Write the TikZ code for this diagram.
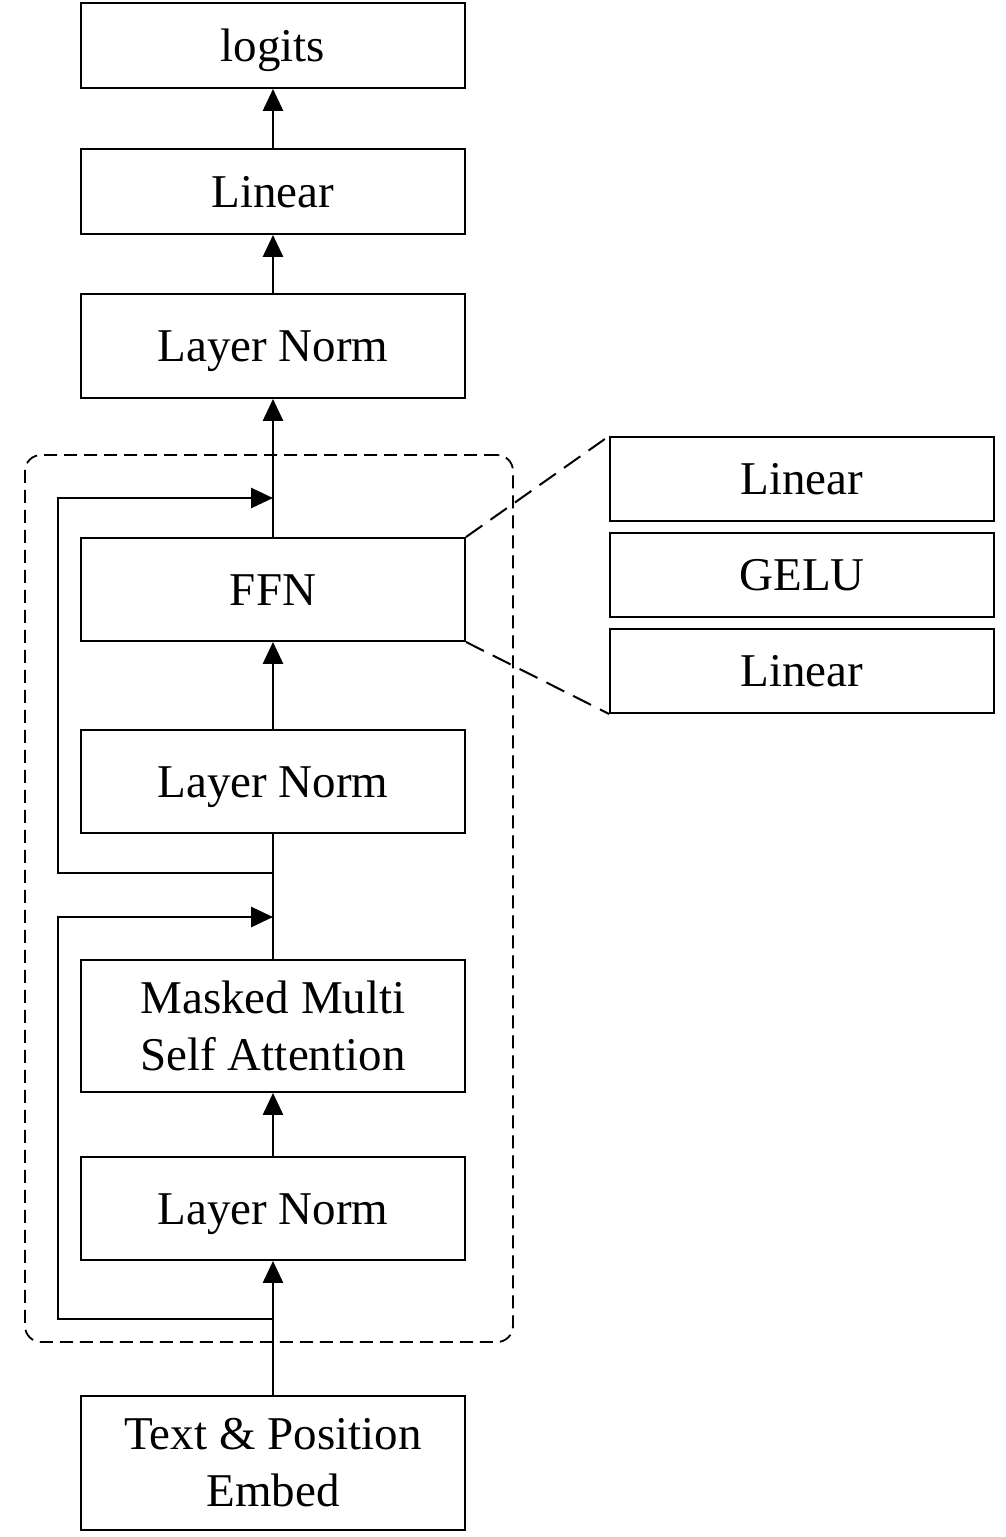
\documentclass[tikz,border=0pt]{standalone}
\usepackage{fontspec}
\setmainfont{Liberation Serif}
\usetikzlibrary{arrows.meta}
\begin{document}
\begin{tikzpicture}[x=1pt,y=-1pt,
 box/.style={draw, line width=1.9pt, minimum width=384pt, inner sep=0pt, align=center, font=\fontsize{47}{57}\selectfont},
 one/.style={box, text height=31pt, text depth=0pt},
 arr/.style={line width=2.9pt, -{Triangle[length=22pt,width=20pt]}},
 plain/.style={line width=2.9pt},
 frame/.style={draw, dash pattern=on 13pt off 7pt, line width=1.8pt, rounded corners=16pt, minimum width=488pt, minimum height=887pt, inner sep=0pt},
 zoomline/.style={dash pattern=on 20pt off 10pt, line width=2pt}]
\useasboundingbox (0,0) rectangle (1005,1537);
\node[frame] (block) at (269,898.5) {};
\node[one, minimum height=85pt] (logits) at (273,45.5) {logits};
\node[one, minimum height=85pt] (lin) at (273,191.5) {Linear};
\node[one, minimum height=104pt] (lnTop) at (273,346) {Layer Norm};
\node[one, minimum height=103pt] (ffn) at (273,589.5) {FFN};
\node[one, minimum height=103pt] (ln2) at (273,781.5) {Layer Norm};
\node[box, minimum height=132pt] (mmsa) at (273,1026) {Masked Multi\\Self Attention};
\node[one, minimum height=103pt] (ln1) at (273,1208.5) {Layer Norm};
\node[box, minimum height=134pt] (embed) at (273,1463) {Text \& Position\\Embed};
\node[one, minimum height=84pt] (linB) at (802,479) {Linear};
\node[one, minimum height=84pt] (gelu) at (802,575) {GELU};
\node[one, minimum height=84pt] (linA) at (802,671) {Linear};
\coordinate (s1) at (273,1319);
\coordinate (j1) at (273,917);
\coordinate (s2) at (273,873);
\coordinate (j2) at (273,498);
\draw[arr] (lin) -- (logits);
\draw[arr] (lnTop) -- (lin);
\draw[arr] (ffn) -- (lnTop);
\draw[arr] (ln2) -- (ffn);
\draw[plain] (mmsa) -- (ln2);
\draw[arr] (ln1) -- (mmsa);
\draw[arr] (embed) -- (ln1);
\draw[arr] (s1) -- ++(-215,0) |- (j1);
\draw[arr] (s2) -- ++(-215,0) |- (j2);
\draw[zoomline] (ffn.north east) -- (linB.north west);
\draw[zoomline] (ffn.south east) -- (linA.south west);
\end{tikzpicture}
\end{document}
